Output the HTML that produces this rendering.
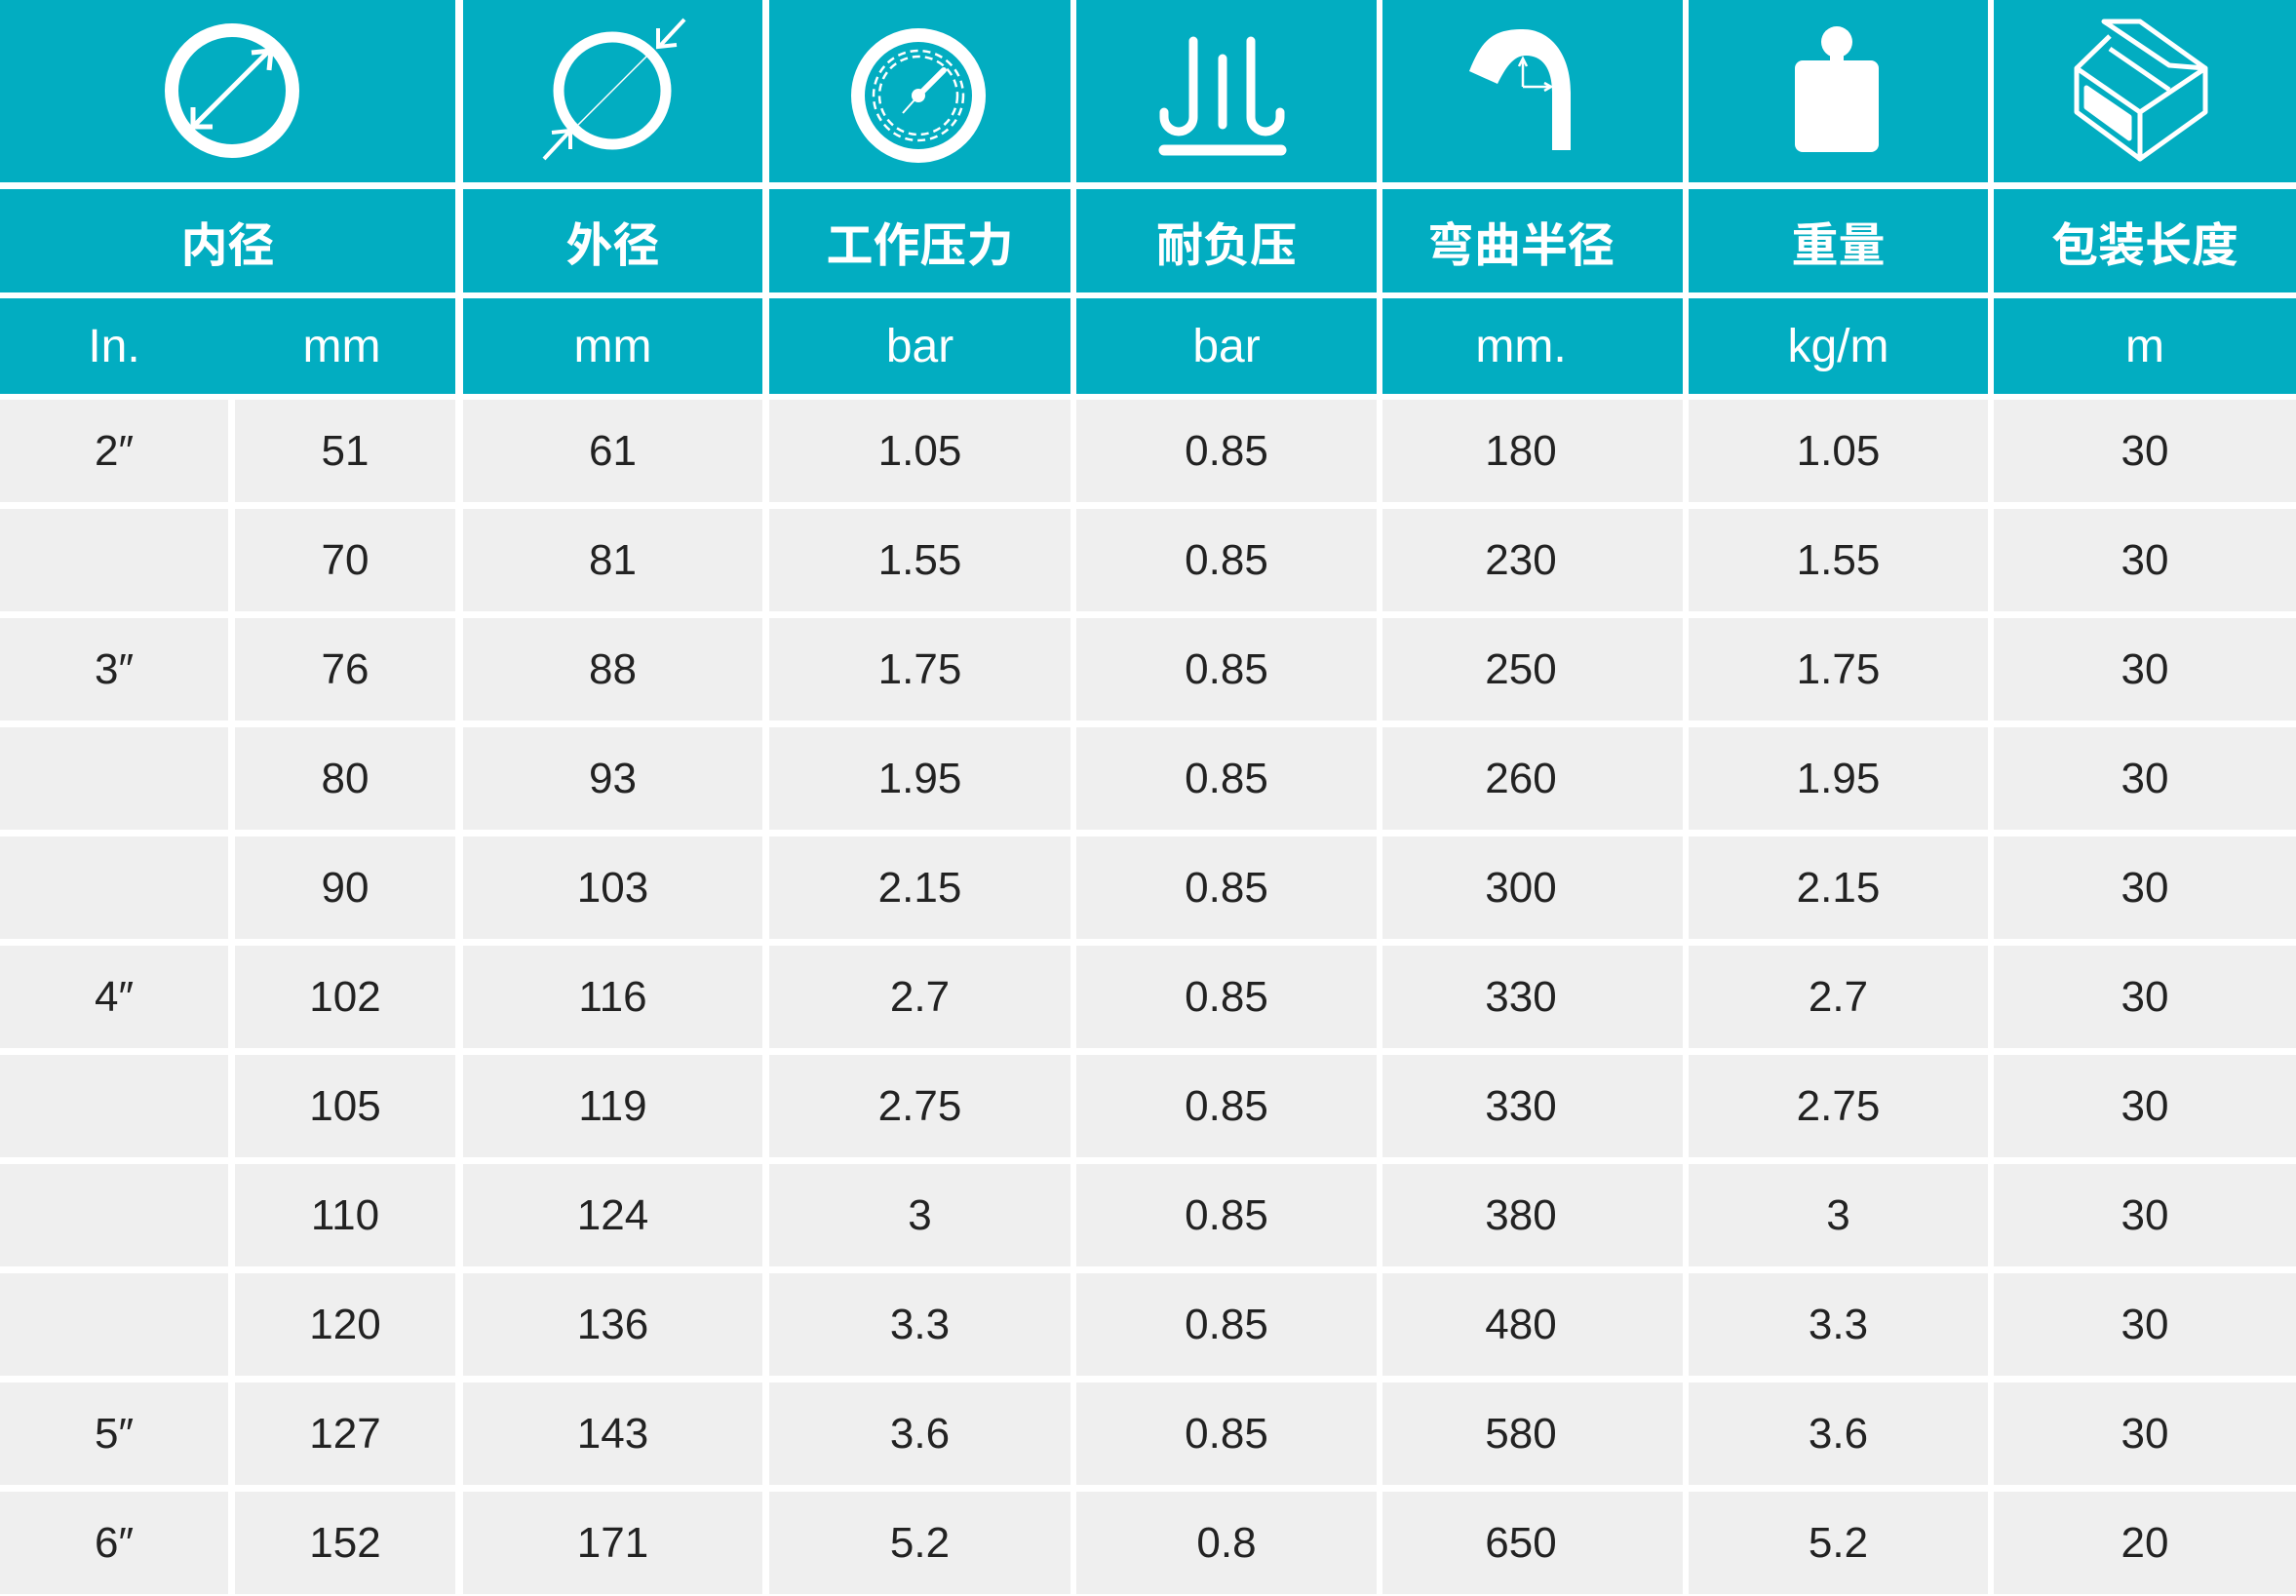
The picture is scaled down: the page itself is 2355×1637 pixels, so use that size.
<!DOCTYPE html>
<html><head><meta charset="utf-8"><style>
html,body{margin:0;padding:0;background:#fff;}
body{width:2355px;height:1637px;position:relative;overflow:hidden;font-family:"Liberation Sans","Noto Sans CJK SC",sans-serif;}
.c{position:absolute;display:flex;align-items:center;justify-content:center;box-sizing:border-box;}
.t{background:#02adc1;color:#fff;}
.d{background:#efefef;color:#222;font-size:44px;}
.h{font-size:48px;font-weight:bold;font-family:"Noto Sans CJK SC","WenQuanYi Zen Hei",sans-serif;}
.u{font-size:48px;}
svg{position:absolute;left:0;top:0;}
</style></head><body>
<div id="g"></div>
<script>
const cols=[[0,467],[475,782],[789,1098],[1104,1412],[1418,1726],[1732,2039],[2045,2355]];
const pads=[0,0,0,0,24,0,0];
const names=["内径","外径","工作压力","耐负压","弯曲半径","重量","包装长度"];
const units=["","mm","bar","bar","mm.","kg/m","m"];
const data=[
["2″","51","61","1.05","0.85","180","1.05","30"],
["","70","81","1.55","0.85","230","1.55","30"],
["3″","76","88","1.75","0.85","250","1.75","30"],
["","80","93","1.95","0.85","260","1.95","30"],
["","90","103","2.15","0.85","300","2.15","30"],
["4″","102","116","2.7","0.85","330","2.7","30"],
["","105","119","2.75","0.85","330","2.75","30"],
["","110","124","3","0.85","380","3","30"],
["","120","136","3.3","0.85","480","3.3","30"],
["5″","127","143","3.6","0.85","580","3.6","30"],
["6″","152","171","5.2","0.8","650","5.2","20"]];
let h="";
function cell(cls,x,y,w,hh,txt,p){h+=`<div class="c ${cls}" style="left:${x}px;top:${y}px;width:${w}px;height:${hh}px;padding-right:${p||0}px">${txt}</div>`;}
cols.forEach((c,i)=>{
 const w=c[1]-c[0];
 cell("t",c[0],0,w,187,"");
 cell("t h",c[0],194,w,106,names[i],pads[i]);
 if(i==0){cell("t u",0,306,234,98,"In.");cell("t u",234,306,233,98,"mm");}
 else cell("t u",c[0],306,w,98,units[i],pads[i]);
});
data.forEach((r,j)=>{
 const y=410+j*112, hh=105;
 cell("d",0,y,234,hh,r[0]);
 cell("d",241,y,226,hh,r[1]);
 for(let i=1;i<7;i++){const c=cols[i];cell("d",c[0],y,c[1]-c[0],hh,r[i+1],pads[i]);}
});
document.getElementById("g").innerHTML=h;
</script>
<svg width="2355" height="190" viewBox="0 0 2355 190" fill="none" stroke="#fff">
 <circle cx="238" cy="93" r="62" stroke-width="14"/>
 <line x1="200" y1="128" x2="276" y2="52" stroke-width="5"/>
 <polyline points="258,54 278,52 276,72" stroke-width="5"/>
 <polyline points="198,110 198,130 218,130" stroke-width="5"/>
 <circle cx="628" cy="93" r="55" stroke-width="11"/>
 <line x1="593" y1="128" x2="665" y2="56" stroke-width="1.5"/>
 <line x1="558" y1="163" x2="584" y2="135" stroke-width="4"/>
 <polyline points="566,136 585,134 585,153" stroke-width="4"/>
 <line x1="702" y1="20" x2="676" y2="48" stroke-width="4"/>
 <polyline points="694,46 675,48 675,29" stroke-width="4"/>
 <circle cx="942" cy="98" r="62" stroke-width="14"/>
 <circle cx="942" cy="98" r="46" stroke-width="2.5" stroke-dasharray="8 5"/>
 <circle cx="942" cy="98" r="40" stroke-width="2.5" stroke-dasharray="8 5"/>
 <line x1="942" y1="98" x2="968" y2="72" stroke-width="6" stroke-linecap="round"/>
 <line x1="942" y1="98" x2="926" y2="116" stroke-width="2"/>
 <circle cx="942" cy="98" r="7" fill="#fff" stroke="none"/>
 <g stroke-width="9" stroke-linecap="round">
  <path d="M1194,115 v5 a15,15 0 0 0 30,0 v-78"/>
  <line x1="1254" y1="60" x2="1254" y2="128"/>
  <path d="M1313,115 v5 a15,15 0 0 1 -30,0 v-78"/>
  <line x1="1194" y1="154" x2="1314" y2="154" stroke-width="11"/>
 </g>
 <path d="M1507,73 C1520,40 1532,30 1562,30 C1590,30 1611,55 1611,95 V154 H1592 V95 C1592,70 1582,57 1565,57 C1552,57 1544,70 1536,86 Z" fill="#fff" stroke="none"/>
 <g stroke-width="2.5"><line x1="1562" y1="89" x2="1562" y2="62"/><line x1="1562" y1="89" x2="1590" y2="89"/><polyline points="1558,68 1562,60 1566,68"/><polyline points="1584,85 1591,89 1584,93"/></g>
 <g fill="#fff" stroke="none">
  <circle cx="1884" cy="43" r="16"/>
  <rect x="1877" y="50" width="14" height="16"/>
  <rect x="1841" y="62" width="86" height="94" rx="8"/>
 </g>
 <g stroke-width="5" stroke-linejoin="round">
  <polygon points="2130,70 2195,115 2195,163 2130,115"/>
  <polygon points="2195,115 2262,70 2262,115 2195,163"/>
  <polyline points="2130,70 2164,37"/>
  <polyline points="2164,50 2225,92"/>
  <polygon points="2158,22 2195,22 2262,70 2225,67"/>
  <polygon points="2140,90 2184,120 2184,142 2140,110" fill="#fff"/>
 </g>
</svg>
</body></html>
